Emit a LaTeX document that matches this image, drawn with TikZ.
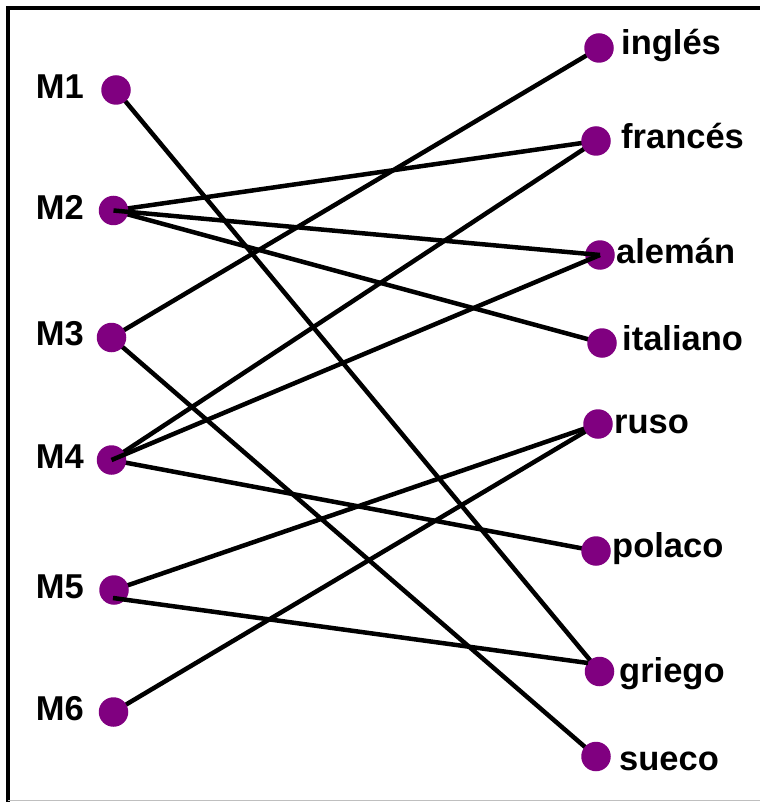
\documentclass[tikz,border=0pt]{standalone}
\usepackage{fontspec}
\setmainfont{Liberation Sans}
\usetikzlibrary{backgrounds}
\definecolor{dotpurple}{HTML}{800080}
\begin{document}
\begin{tikzpicture}[x=1pt,y=-1pt,
  dot/.style={circle,fill=dotpurple,minimum size=29.5pt,inner sep=0pt},
  lbl/.style={inner sep=0pt,font=\fontsize{34.5}{40}\selectfont\bfseries},
  edge/.style={line width=4.5pt,black}]
\useasboundingbox (0,0) rectangle (760,802);
\draw[line width=3.5pt] (8,802) -- (8,8) -- (760,8);
\draw[black!25,line width=1.5pt] (8,800.5) -- (760,800.5);
% left dots
\node[dot] (m1) at (116,90) {};
\node[dot] (m2) at (113.5,210.5) {};
\node[dot] (m3) at (111.5,337.5) {};
\node[dot] (m4) at (111.5,460) {};
\node[dot] (m5) at (114,590) {};
\node[dot] (m6) at (113.5,712) {};
% right dots
\node[dot] (ing) at (599,48) {};
\node[dot] (fra) at (596,141) {};
\node[dot] (ale) at (600,255) {};
\node[dot] (ita) at (602,343) {};
\node[dot] (rus) at (598,424) {};
\node[dot] (pol) at (596,551) {};
\node[dot] (gri) at (599.5,671.5) {};
\node[dot] (sue) at (596,756.5) {};
% left labels
\node[lbl,anchor=base east] (tm1) at (84,99) {M1};
\node[lbl,anchor=base east] (tm2) at (84,220) {M2};
\node[lbl,anchor=base east] (tm3) at (84,345) {M3};
\node[lbl,anchor=base east] (tm4) at (84,468) {M4};
\node[lbl,anchor=base east] (tm5) at (84,598) {M5};
\node[lbl,anchor=base east] (tm6) at (84,720) {M6};
% right labels
\node[lbl,anchor=base west] (ting) at (621,55) {inglés};
\node[lbl,anchor=base west] (tfra) at (621,149) {francés};
\node[lbl,anchor=base west] (tale) at (616,263) {alemán};
\node[lbl,anchor=base west] (tita) at (622,350) {italiano};
\node[lbl,anchor=base west] (trus) at (614,433) {ruso};
\node[lbl,anchor=base west] (tpol) at (612,557) {polaco};
\node[lbl,anchor=base west] (tgri) at (619,682) {griego};
\node[lbl,anchor=base west] (tsue) at (619,770) {sueco};
% connectors behind the dots
\begin{pgfonlayer}{background}
\draw[edge] (m1.center) -- (gri.center);
\draw[edge] (m2.center) -- (fra.center);
\draw[edge] (m2.center) -- (ita.center);
\draw[edge] (m3.center) -- (ing.center);
\draw[edge] (m3.center) -- (sue.center);
\draw[edge] (m4.center) -- (fra.center);
\draw[edge] (m4.center) -- (pol.center);
\draw[edge] (m5.center) -- (rus.center);
\draw[edge] (m6.center) -- (rus.center);
\end{pgfonlayer}
% connectors drawn over the dots
\coordinate (m5b) at (113,598);
\coordinate (grb) at (588,663);
\draw[edge] (m2.center) -- (ale.center);
\draw[edge] (m4.center) -- (ale.center);
\draw[edge] (m5b) -- (grb);
\end{tikzpicture}
\end{document}
